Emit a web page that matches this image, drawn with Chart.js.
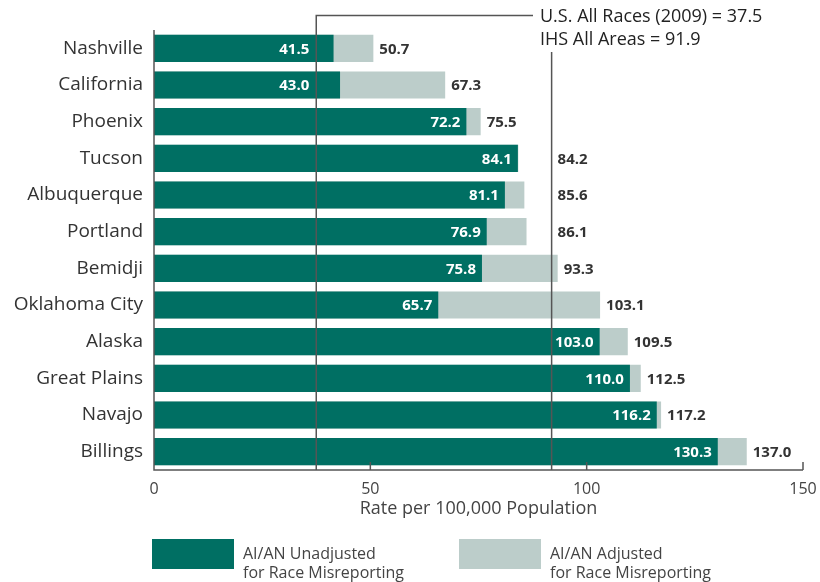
<!DOCTYPE html>
<html>
<head>
<meta charset="utf-8">
<script src="https://cdn.jsdelivr.net/npm/chart.js@4.4.0/dist/chart.umd.min.js"></script>
<style>
  html, body { margin: 0; padding: 0; background: #fff; }
  #wrap { width: 820px; height: 582px; position: relative; }
</style>
</head>
<body>
<div id="wrap"><canvas id="chart" width="820" height="582"></canvas></div>
<script>
const areas = ['Nashville', 'California', 'Phoenix', 'Tucson', 'Albuquerque', 'Portland',
               'Bemidji', 'Oklahoma City', 'Alaska', 'Great Plains', 'Navajo', 'Billings'];
const unadjusted = [41.5, 43.0, 72.2, 84.1, 81.1, 76.9, 75.8, 65.7, 103.0, 110.0, 116.2, 130.3];
const adjusted = [50.7, 67.3, 75.5, 84.2, 85.6, 86.1, 93.3, 103.1, 109.5, 112.5, 117.2, 137.0];
const xTicks = [0, 50, 100, 150];
const usAllRaces = 37.5;
const ihsAllAreas = 91.9;

const FONT = '"Open Sans", "Noto Sans", sans-serif';
const DARK = '#006f63';
const LIGHT = '#bccdca';

// value labels, reference lines, axes, legend
const overlay = {
    id: 'overlay',
    afterDatasetsDraw(chart) {
        const ctx = chart.ctx;
        const x = chart.scales.x;
        const area = chart.chartArea;
        const usX = x.getPixelForValue(usAllRaces);
        const ihsX = x.getPixelForValue(ihsAllAreas);
        const m0 = chart.getDatasetMeta(0);
        const m1 = chart.getDatasetMeta(1);

        ctx.save();
        // reference lines
        ctx.strokeStyle = '#555';
        ctx.lineWidth = 1.5;
        ctx.beginPath();
        ctx.moveTo(usX, area.bottom);
        ctx.lineTo(usX, 15.5);
        ctx.lineTo(533, 15.5);
        ctx.moveTo(ihsX, area.bottom);
        ctx.lineTo(ihsX, 52);
        ctx.stroke();

        ctx.fillStyle = '#222';
        ctx.font = '18px ' + FONT;
        ctx.textAlign = 'left';
        ctx.textBaseline = 'middle';
        ctx.fillText('U.S. All Races (2009) = ' + usAllRaces, 540, 16.5);
        ctx.fillText('IHS All Areas = ' + ihsAllAreas, 540, 40);

        ctx.font = 'bold 15px ' + FONT;
        areas.forEach((a, i) => {
            const b0 = m0.data[i], b1 = m1.data[i];
            // unadjusted value inside bar
            const t0 = unadjusted[i].toFixed(1);
            const w0 = ctx.measureText(t0).width;
            let r = b0.x - 6;
            if (usX > r - w0 - 4 && usX < b0.x) r = usX - 7;
            ctx.fillStyle = '#fff';
            ctx.textAlign = 'right';
            ctx.fillText(t0, r, b0.y + 1);
            // adjusted value after bar
            const t1 = adjusted[i].toFixed(1);
            const w1 = ctx.measureText(t1).width;
            let l = Math.max(b1.x, b0.x) + 6;
            if (l < ihsX && l + w1 + 4 > ihsX) l = ihsX + 6;
            ctx.fillStyle = '#333';
            ctx.textAlign = 'left';
            ctx.fillText(t1, l, b1.y + 1);
        });

        // axis lines and tick marks pointing up
        ctx.strokeStyle = '#555';
        ctx.lineWidth = 1.5;
        ctx.beginPath();
        ctx.moveTo(area.left, area.top);
        ctx.lineTo(area.left, area.bottom);
        ctx.lineTo(area.right, area.bottom);
        xTicks.forEach(v => {
            const px = x.getPixelForValue(v);
            ctx.moveTo(px, area.bottom);
            ctx.lineTo(px, area.bottom - 8);
        });
        ctx.stroke();

        // axis title
        ctx.fillStyle = '#444';
        ctx.font = '18px ' + FONT;
        ctx.textAlign = 'center';
        ctx.fillText('Rate per 100,000 Population', (area.left + area.right) / 2, 509);
        ctx.restore();
    },
    afterDraw(chart) {
        const ctx = chart.ctx;
        ctx.save();
        const items = [
            { x: 152, color: DARK, lines: ['AI/AN Unadjusted', 'for Race Misreporting'] },
            { x: 459, color: LIGHT, lines: ['AI/AN Adjusted', 'for Race Misreporting'] }
        ];
        items.forEach(it => {
            ctx.fillStyle = it.color;
            ctx.fillRect(it.x, 539, 82, 30);
            ctx.fillStyle = '#444';
            ctx.font = '16px ' + FONT;
            ctx.textAlign = 'left';
            ctx.textBaseline = 'middle';
            ctx.fillText(it.lines[0], it.x + 91, 554);
            ctx.fillText(it.lines[1], it.x + 91, 573);
        });
        ctx.restore();
    }
};

new Chart(document.getElementById('chart'), {
    type: 'bar',
    data: {
        labels: areas,
        datasets: [
            { label: 'AI/AN Unadjusted for Race Misreporting', data: unadjusted, backgroundColor: DARK },
            { label: 'AI/AN Adjusted for Race Misreporting', data: adjusted, backgroundColor: LIGHT }
        ]
    },
    options: {
        indexAxis: 'y',
        responsive: false,
        animation: false,
        layout: { padding: { top: 30, right: 17, left: 0, bottom: 0 } },
        datasets: { bar: { grouped: false, categoryPercentage: 1, barPercentage: 0.74 } },
        plugins: { legend: { display: false }, tooltip: { enabled: false } },
        scales: {
            x: {
                min: 0, max: 150,
                afterBuildTicks: s => { s.ticks = xTicks.map(v => ({ value: v })); },
                afterFit: s => { s.height = 112; },
                grid: { display: false },
                border: { display: false },
                ticks: { color: '#444', font: { family: FONT, size: 16 }, padding: 2 }
            },
            y: {
                afterFit: s => { s.width = 154; },
                grid: { display: false },
                border: { display: false },
                ticks: { color: '#333', font: { family: FONT, size: 19 }, padding: 3 }
            }
        }
    },
    plugins: [overlay]
});
</script>
</body>
</html>
